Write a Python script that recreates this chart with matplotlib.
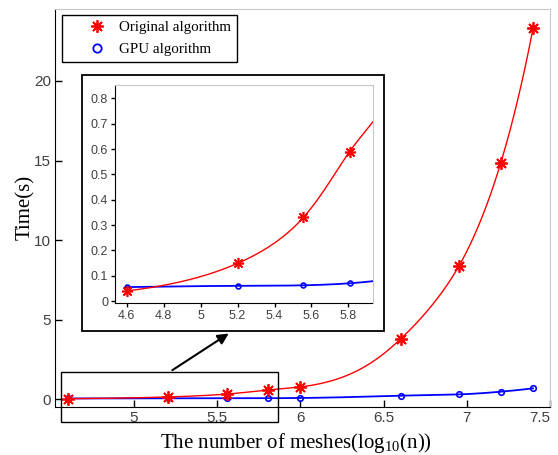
# Runtime comparison: original algorithm vs GPU algorithm, with zoomed inset
import numpy as np
import matplotlib
matplotlib.use("Agg")
import matplotlib.pyplot as plt
from matplotlib.patches import Rectangle

plt.rcParams["mathtext.fontset"] = "custom"
plt.rcParams["mathtext.rm"] = "Liberation Serif"
plt.rcParams["mathtext.it"] = "Liberation Serif:italic"

# Data (log10 of mesh count, time in seconds)
log_n = [4.602, 5.204, 5.556, 5.806, 6.0, 6.602, 6.954, 7.204, 7.398]
t_orig = [0.04, 0.15, 0.33, 0.59, 0.78, 3.79, 8.40, 14.85, 23.3]
t_gpu = [0.055, 0.06, 0.062, 0.07, 0.085, 0.23, 0.31, 0.48, 0.69]

main_xticks = [5, 5.5, 6, 6.5, 7, 7.5]
main_xticklabels = ["5", "5.5", "6", "6.5", "7", "7.5"]
main_yticks = [0, 5, 10, 15, 20]
inset_xticks = [4.6, 4.8, 5.0, 5.2, 5.4, 5.6, 5.8]
inset_xticklabels = ["4.6", "4.8", "5", "5.2", "5.4", "5.6", "5.8"]
inset_yticks = [0, 0.1, 0.2, 0.3, 0.4, 0.5, 0.6, 0.7, 0.8]
inset_yticklabels = ["0", "0.1", "0.2", "0.3", "0.4", "0.5", "0.6", "0.7", "0.8"]

RED = "#ff0000"
BLUE = "#0000ff"
GREY = "#c8c8c8"
TICK_COL = "#404040"
SERIF = ["Liberation Serif", "DejaVu Serif"]
SANS = ["Liberation Sans", "DejaVu Sans"]
STAR = (8, 2, 0)  # asterisk-like marker


def spline(x, y, xs):
    # natural cubic spline (like a smooth curve drawn through the points)
    x = np.asarray(x, float)
    y = np.asarray(y, float)
    n = len(x)
    h = np.diff(x)
    A = np.zeros((n, n))
    b = np.zeros(n)
    A[0, 0] = A[-1, -1] = 1
    for i in range(1, n - 1):
        A[i, i - 1] = h[i - 1]
        A[i, i] = 2 * (h[i - 1] + h[i])
        A[i, i + 1] = h[i]
        b[i] = 3 * ((y[i + 1] - y[i]) / h[i] - (y[i] - y[i - 1]) / h[i - 1])
    c = np.linalg.solve(A, b)
    out = np.empty_like(xs)
    for k, xv in enumerate(xs):
        i = min(max(np.searchsorted(x, xv) - 1, 0), n - 2)
        d = xv - x[i]
        bi = (y[i + 1] - y[i]) / h[i] - h[i] * (2 * c[i] + c[i + 1]) / 3
        di = (c[i + 1] - c[i]) / (3 * h[i])
        out[k] = y[i] + bi * d + c[i] * d**2 + di * d**3
    return out


def smooth(x, y, lo, hi):
    # fit in log space so the curve stays positive and smooth
    xs = np.linspace(lo, hi, 400)
    return xs, np.exp(spline(x, np.log(y), xs))


def style_axes(ax):
    for s in ["top", "right"]:
        ax.spines[s].set_color(GREY)
    for s in ["left", "bottom"]:
        ax.spines[s].set_color("black")


fig = plt.figure(figsize=(5.58, 4.55), dpi=100)
W, H = 558, 455

# main axes
ax = fig.add_axes([55 / W, 1 - 406.5 / H, 495 / W, 398 / H])
xs, ys = smooth(log_n, t_orig, log_n[0], log_n[-1])
ax.plot(xs, ys, color=RED, lw=1.0, zorder=3)
ax.plot(log_n, t_orig, ls="none", marker=STAR, ms=9, mew=1.3, color=RED, zorder=4)
xs, ys = smooth(log_n, t_gpu, log_n[0], log_n[-1])
ax.plot(xs, ys, color=BLUE, lw=1.3, zorder=2)
ax.plot(log_n, t_gpu, ls="none", marker="o", ms=4, mfc="none", mec=BLUE, mew=1.2, zorder=2)
ax.set_xlim(4.525, 7.5)
ax.set_ylim(-0.45, 24.55)
ax.set_xticks(main_xticks)
ax.set_xticklabels(main_xticklabels)
ax.set_yticks(main_yticks)
ax.tick_params(direction="in", length=5, width=1, labelsize=11, labelcolor=TICK_COL, pad=3)
for lab in ax.get_xticklabels() + ax.get_yticklabels():
    lab.set_family(SANS)
ax.get_xticklabels()[-1].set_horizontalalignment("right")  # keep "7.5" inside the figure
style_axes(ax)
ax.set_xlabel("The number of meshes(log$_{10}$(n))", family=SERIF, fontsize=15, labelpad=6)
ax.xaxis.set_label_coords((295.5 - 55) / 495, -0.062)
ax.set_ylabel("Time(s)", family=SERIF, fontsize=15, labelpad=-1)

# legend
h1, = ax.plot([], [], ls="none", marker=STAR, ms=9, mew=1.3, color=RED)
h2, = ax.plot([], [], ls="none", marker="o", ms=6, mfc="none", mec=BLUE, mew=1.3)
leg = ax.legend([h1, h2], ["Original algorithm", "GPU algorithm"],
                loc="upper left", bbox_to_anchor=(7 / 495, 1 - 6 / 398), borderaxespad=0,
                prop={"family": SERIF, "size": 10.8}, frameon=True, fancybox=False,
                edgecolor="black", framealpha=1, borderpad=0.4, handletextpad=-0.4,
                labelspacing=0.55, handlelength=3.8)
leg.get_frame().set_linewidth(1.0)

# zoom rectangle in main axes
ax.add_patch(Rectangle((4.56, -1.44), 5.867 - 4.56, 1.73 + 1.44, fill=False,
                       edgecolor="black", lw=1.0, clip_on=False, zorder=5))

# white box behind the inset
fig.patches.append(Rectangle((82 / W, 1 - 331 / H), 302 / W, 256 / H, transform=fig.transFigure,
                             facecolor="white", edgecolor="black", lw=1.3, zorder=1))

# arrow from rectangle to inset box
ax.annotate("", xy=(231 / W, 1 - 332 / H), xytext=(170 / W, 1 - 371.7 / H),
            xycoords="figure fraction", textcoords="figure fraction",
            arrowprops=dict(arrowstyle="-|>", color="black", lw=1.5, mutation_scale=16))

# inset axes
ins = fig.add_axes([115 / W, 1 - 303.3 / H, 257.5 / W, 218.3 / H], zorder=6)
xs, ys = smooth(log_n, t_orig, log_n[0], 5.95)
ins.plot(xs, ys, color=RED, lw=1.0, zorder=3)
ins.plot(log_n, t_orig, ls="none", marker=STAR, ms=8, mew=1.2, color=RED, zorder=4)
xs, ys = smooth(log_n, t_gpu, log_n[0], 5.95)
ins.plot(xs, ys, color=BLUE, lw=1.3, zorder=2)
ins.plot(log_n, t_gpu, ls="none", marker="o", ms=3.5, mfc="none", mec=BLUE, mew=1.2, zorder=2)
ins.set_xlim(4.537, 5.93)
ins.set_ylim(-0.009, 0.853)
ins.set_xticks(inset_xticks)
ins.set_xticklabels(inset_xticklabels)
ins.set_yticks(inset_yticks)
ins.set_yticklabels(inset_yticklabels)
ins.tick_params(direction="out", length=3, width=1, labelsize=9, labelcolor=TICK_COL, pad=2)
for lab in ins.get_xticklabels() + ins.get_yticklabels():
    lab.set_family(SANS)
style_axes(ins)

fig.savefig("out.png", dpi=100)
